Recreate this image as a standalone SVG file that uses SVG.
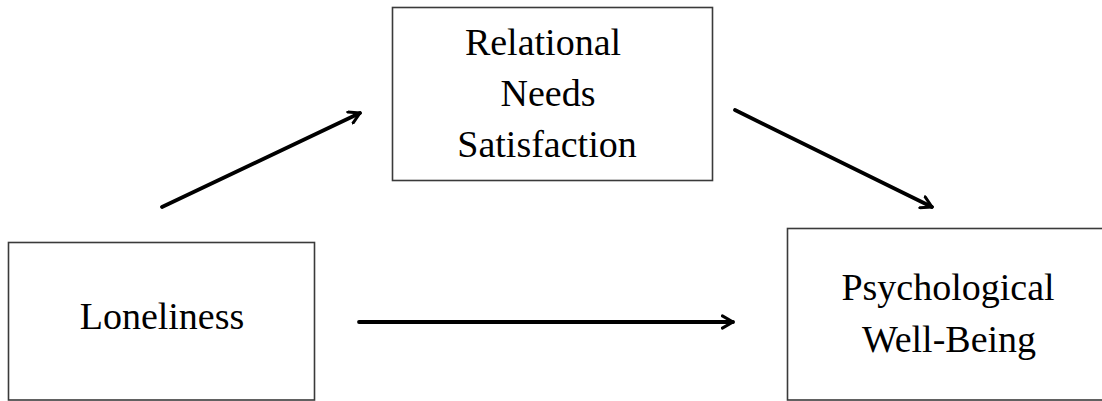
<svg xmlns="http://www.w3.org/2000/svg" width="1102" height="401" viewBox="0 0 1102 401">
<style>
.box{fill:#fff;stroke:#3a3a3a;stroke-width:1.6}
.lbl{font-family:"Liberation Serif","Times New Roman",serif;font-size:38px;fill:#000;text-anchor:middle}
.arr{stroke:#000;stroke-width:3.8;fill:none;stroke-linecap:round}
</style>
<defs>
<marker id="ah" viewBox="0 0 10 10" refX="8" refY="5" markerWidth="4" markerHeight="4" orient="auto" markerUnits="strokeWidth">
<path d="M1,1 L8,5 L1,9" fill="none" stroke="#000" stroke-width="2" stroke-linecap="round" stroke-linejoin="round"/>
</marker>
</defs>
<rect width="1102" height="401" fill="#fff"/>
<g id="relational">
<rect class="box" x="392.5" y="7.5" width="320" height="173"/>
<text class="lbl" x="543" y="55">Relational</text>
<text class="lbl" x="548" y="106">Needs</text>
<text class="lbl" x="547" y="157">Satisfaction</text>
</g>
<g id="loneliness">
<rect class="box" x="8.5" y="242.5" width="306" height="157.5"/>
<text class="lbl" x="162" y="329">Loneliness</text>
</g>
<g id="wellbeing">
<rect class="box" x="787.5" y="228.5" width="320" height="171.5"/>
<text class="lbl" x="948" y="300">Psychological</text>
<text class="lbl" x="949" y="352">Well-Being</text>
</g>
<g id="connectors">
<path class="arr" d="M162,207 L360,113" marker-end="url(#ah)"/>
<path class="arr" d="M735,110 L932,207" marker-end="url(#ah)"/>
<path class="arr" d="M359,322 L733,322" marker-end="url(#ah)"/>
</g>
</svg>
